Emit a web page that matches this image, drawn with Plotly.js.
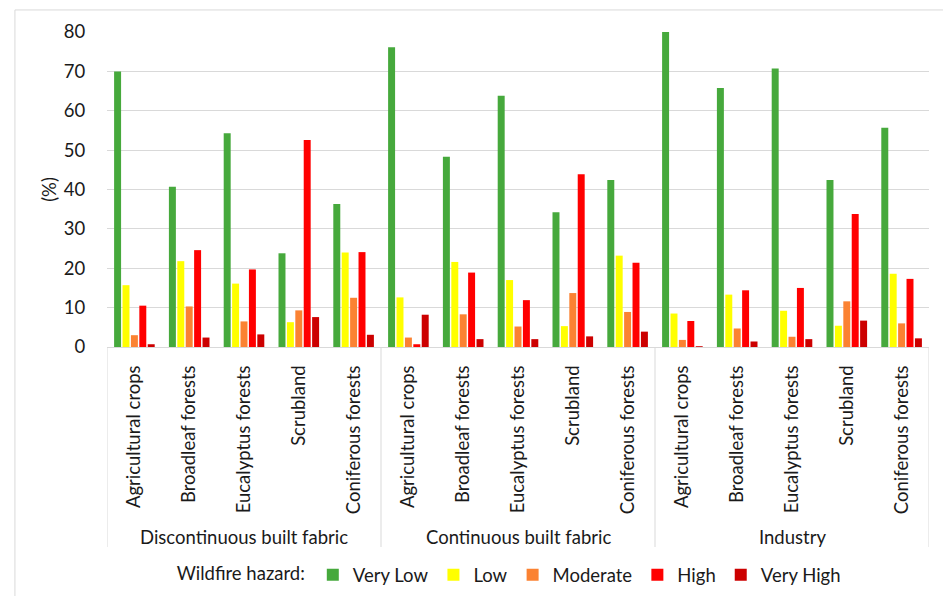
<!DOCTYPE html>
<html>
<head>
<meta charset="utf-8">
<script src="https://cdn.plot.ly/plotly-3.0.1.min.js"></script>
<style>html,body{margin:0;padding:0;background:#fff;}#chart{width:943px;height:596px;}</style>
</head>
<body>
<div id="chart"></div>
<script>
const groups = ['Discontinuous built fabric', 'Continuous built fabric', 'Industry'];
const landCovers = ['Agricultural crops', 'Broadleaf forests', 'Eucalyptus forests', 'Scrubland', 'Coniferous forests'];
const hazardLevels = ['Very Low', 'Low', 'Moderate', 'High', 'Very High'];
const hazardColors = ['#46A93C', '#FFFF00', '#FB8232', '#FF0000', '#CC0000'];

// values in %, ordered group by group, land cover by land cover
const veryLow  = [70.0, 40.7, 54.3, 23.8, 36.3,  76.1, 48.3, 63.8, 34.2, 42.4,  80.0, 65.8, 70.7, 42.4, 55.7];
const low      = [15.7, 21.8, 16.1,  6.3, 24.0,  12.6, 21.6, 17.0,  5.3, 23.2,   8.5, 13.3,  9.2,  5.4, 18.6];
const moderate = [ 3.0, 10.3,  6.5,  9.3, 12.5,   2.4,  8.3,  5.2, 13.7,  8.9,   1.8,  4.7,  2.6, 11.6,  6.0];
const high     = [10.5, 24.6, 19.7, 52.6, 24.1,   0.7, 18.9, 11.9, 43.9, 21.4,   6.6, 14.4, 15.0, 33.8, 17.3];
const veryHigh = [ 0.7,  2.4,  3.2,  7.6,  3.1,   8.2,  2.0,  2.0,  2.7,  3.9,   0.2,  1.4,  2.0,  6.7,  2.2];
const yTicks = [0, 10, 20, 30, 40, 50, 60, 70, 80];

const seriesValues = [veryLow, low, moderate, high, veryHigh];

const FONT = 'Lato, "Liberation Sans", sans-serif';
const FS = 18.5;
const TXT = '#1a1a1a';
const GRID = '#d9d9d9';

const xIdx = [], xText = [];
groups.forEach((g, gi) => landCovers.forEach((c, ci) => { xIdx.push(gi * landCovers.length + ci); xText.push(c); }));

const traces = hazardLevels.map((name, i) => ({
  type: 'bar', name: name, x: xIdx, y: seriesValues[i],
  marker: {color: hazardColors[i], line: {width: 0}},
  hoverinfo: 'x+y+name'
}));

const nCat = xIdx.length;
const shapes = [];
for (let gi = 0; gi <= groups.length; gi++) {
  const xb = gi * landCovers.length - 0.5;
  shapes.push({type: 'line', xref: 'x', yref: 'paper', x0: xb, x1: xb, y0: 0, y1: -0.635,
    line: {color: GRID, width: 1}});
}
// outer frame (top and left edges)
shapes.push({type: 'line', xref: 'paper', yref: 'paper', x0: -0.112, x1: 1.05, y0: 1.07, y1: 1.07, line: {color: GRID, width: 1}});
shapes.push({type: 'line', xref: 'paper', yref: 'paper', x0: -0.112, x1: -0.112, y0: 1.07, y1: -0.8, line: {color: GRID, width: 1}});

const annotations = groups.map((g, gi) => ({
  xref: 'x', yref: 'paper', x: gi * landCovers.length + (landCovers.length - 1) / 2, y: -0.603,
  text: g, showarrow: false, xanchor: 'center', yanchor: 'middle',
  font: {family: FONT, size: FS, color: TXT}
}));

const layout = {
  width: 943, height: 596,
  margin: {l: 107, r: 14, t: 32, b: 249, autoexpand: false},
  paper_bgcolor: '#fff', plot_bgcolor: '#fff',
  barmode: 'group', bargap: 0.233, bargroupgap: 0.17,
  font: {family: FONT, size: FS, color: TXT},
  xaxis: {
    type: 'linear', range: [-0.5, nCat - 0.5],
    tickmode: 'array', tickvals: xIdx, ticktext: xText, tickangle: -90,
    ticks: 'outside', ticklen: 10, tickcolor: 'rgba(0,0,0,0)',
    showgrid: false, zeroline: false, showline: true, linecolor: GRID, linewidth: 1,
    tickfont: {family: FONT, size: FS, color: TXT}, automargin: false, fixedrange: true
  },
  yaxis: {
    range: [0, 80], tickmode: 'array', tickvals: yTicks,
    showgrid: true, gridcolor: GRID, gridwidth: 1, zeroline: false, showline: false,
    ticks: 'outside', ticklen: 17, tickcolor: 'rgba(0,0,0,0)',
    tickfont: {family: FONT, size: FS, color: TXT},
    title: {text: '(%)', font: {family: FONT, size: FS, color: TXT}, standoff: 2},
    automargin: false, fixedrange: true
  },
  showlegend: true,
  legend: {
    orientation: 'h', xref: 'container', yref: 'container',
    x: 0.541, xanchor: 'center', y: 0.035, yanchor: 'middle',
    title: {text: 'Wildfire hazard:', side: 'left', font: {family: FONT, size: FS, color: TXT}},
    font: {family: FONT, size: FS, color: TXT}, traceorder: 'normal',
    bgcolor: 'rgba(0,0,0,0)', itemclick: false, itemdoubleclick: false
  },
  shapes: shapes,
  annotations: annotations
};

Plotly.newPlot('chart', traces, layout, {displayModeBar: false, staticPlot: true});
</script>
</body>
</html>
